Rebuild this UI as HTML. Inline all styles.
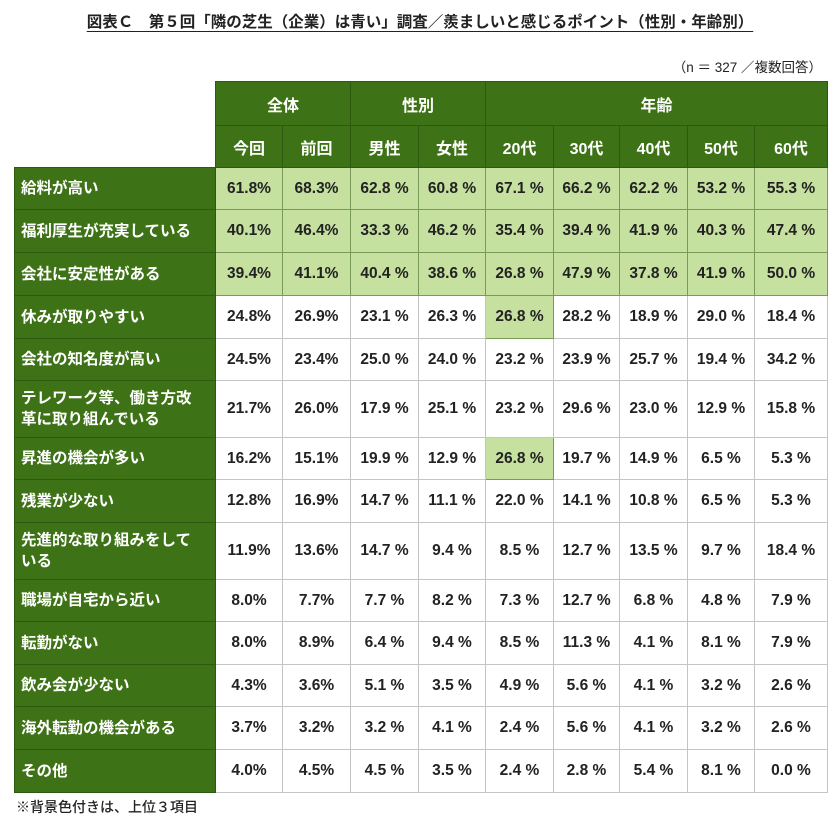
<!DOCTYPE html>
<html><head><meta charset="utf-8">
<style>
body{margin:0;width:840px;height:833px;background:#fff;font-family:"Liberation Sans","Noto Sans CJK JP",sans-serif;position:relative;overflow:hidden}
#title{position:absolute;left:0;width:840px;top:10px;text-align:center;font-size:15.5px;font-weight:bold;color:#222}
#title span{text-decoration:underline;text-underline-offset:4px}
#note{position:absolute;right:18px;top:56px;font-size:13.5px;color:#222}
#foot{position:absolute;left:16px;top:797px;font-size:14px;color:#222;font-weight:500}
table{position:absolute;left:14px;top:81px;border-collapse:collapse;table-layout:fixed;font-weight:bold;font-size:15.5px;color:#222}
td,th{padding:0;text-align:center;vertical-align:middle}
th{background:#3e7216;color:#fff;border:1px solid #2d5a10;font-size:16px}
th.blank{background:#fff;border:none}
td.lab{background:#3e7216;color:#fff;text-align:left;padding-left:6px;border:1px solid #2d5a10;font-size:15.5px;line-height:21px}
td.v{background:#fff;border:1px solid #c4c4c4}
td.h{background:#c6e0a0;border:1px solid #7a9a5a}
</style></head><body>
<div id="title"><span>図表Ｃ　第５回「隣の芝生（企業）は青い」調査／羨ましいと感じるポイント（性別・年齢別）</span></div>
<div id="note">（n ＝ 327 ／複数回答）</div>
<table id="tbl">
<colgroup><col style="width:201px"><col style="width:67px"><col style="width:68px"><col style="width:68px"><col style="width:67px"><col style="width:68px"><col style="width:66px"><col style="width:68px"><col style="width:67px"><col style="width:73px"></colgroup>
<thead>
<tr style="height:44px"><th class="blank" rowspan="2"></th><th colspan="2">全体</th><th colspan="2">性別</th><th colspan="5">年齢</th></tr>
<tr style="height:42px" id="hdr"></tr>
</thead>
<tbody id="body"></tbody>
</table>
<div id="foot">※背景色付きは、上位３項目</div>
<script>
const columns=["今回","前回","男性","女性","20代","30代","40代","50代","60代"];
const rowLabels=["給料が高い","福利厚生が充実している","会社に安定性がある","休みが取りやすい","会社の知名度が高い","テレワーク等、働き方改革に取り組んでいる","昇進の機会が多い","残業が少ない","先進的な取り組みをしている","職場が自宅から近い","転勤がない","飲み会が少ない","海外転勤の機会がある","その他"];
const v0=[61.8,40.1,39.4,24.8,24.5,21.7,16.2,12.8,11.9,8.0,8.0,4.3,3.7,4.0];
const v1=[68.3,46.4,41.1,26.9,23.4,26.0,15.1,16.9,13.6,7.7,8.9,3.6,3.2,4.5];
const v2=[62.8,33.3,40.4,23.1,25.0,17.9,19.9,14.7,14.7,7.7,6.4,5.1,3.2,4.5];
const v3=[60.8,46.2,38.6,26.3,24.0,25.1,12.9,11.1,9.4,8.2,9.4,3.5,4.1,3.5];
const v4=[67.1,35.4,26.8,26.8,23.2,23.2,26.8,22.0,8.5,7.3,8.5,4.9,2.4,2.4];
const v5=[66.2,39.4,47.9,28.2,23.9,29.6,19.7,14.1,12.7,12.7,11.3,5.6,5.6,2.8];
const v6=[62.2,41.9,37.8,18.9,25.7,23.0,14.9,10.8,13.5,6.8,4.1,4.1,4.1,5.4];
const v7=[53.2,40.3,41.9,29.0,19.4,12.9,6.5,6.5,9.7,4.8,8.1,3.2,3.2,8.1];
const v8=[55.3,47.4,50.0,18.4,34.2,15.8,5.3,5.3,18.4,7.9,7.9,2.6,2.6,0.0];
const series=[v0,v1,v2,v3,v4,v5,v6,v7,v8];
const heights=[42,43,43,43,42,57,42,43,57,42,43,42,43,43];
const labelLines={5:"テレワーク等、働き方改<br>革に取り組んでいる",8:"先進的な取り組みをして<br>いる"};
const hdr=document.getElementById('hdr');
columns.forEach((c,i)=>{const th=document.createElement('th');th.textContent=c;


hdr.appendChild(th);});
const body=document.getElementById('body');
rowLabels.forEach((lab,r)=>{
const tr=document.createElement('tr');tr.style.height=heights[r]+'px';


const td=document.createElement('td');td.className='lab';td.innerHTML=labelLines[r]||lab;


tr.appendChild(td);
series.forEach((s,c)=>{
const col=series.map(x=>x[r]);
// top3 ranks within column
const sorted=s.slice().sort((a,b)=>b-a);const th3=sorted[2];
const cell=document.createElement('td');
cell.className=(s[r]>=th3)?'h':'v';
const txt=s[r].toFixed(1);
cell.textContent=(c<2)?txt+'%':txt+' %';


tr.appendChild(cell);});
body.appendChild(tr);});
</script>
</body></html>
